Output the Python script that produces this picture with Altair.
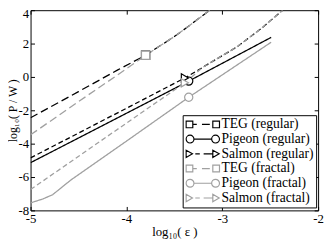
import altair as alt
import pandas as pd

# ---------------- data ----------------
series_names = ["TEG (regular)", "Pigeon (regular)", "Salmon (regular)",
                "TEG (fractal)", "Pigeon (fractal)", "Salmon (fractal)"]

teg_reg_x = [-5.0, -4.5, -4.09, -3.80, -3.50, -3.37, -3.13]
teg_reg_y = [-2.45, -0.88, 0.42, 1.30, 2.42, 2.96, 4.00]

pig_reg_x = [-5.0, -4.0, -3.35, -2.49]
pig_reg_y = [-5.14, -2.18, -0.25, 2.37]

sal_reg_x = [-5.0, -4.0, -3.39, -3.20, -2.85, -2.60, -2.37]
sal_reg_y = [-4.85, -1.88, -0.06, 0.59, 1.79, 2.87, 4.00]

teg_fra_x = [-5.0, -4.5, -4.09, -3.80, -3.50, -3.37, -3.13]
teg_fra_y = [-3.47, -1.48, 0.13, 1.30, 2.42, 2.96, 4.00]

pig_fra_x = [-5.0, -4.87, -4.77, -4.58, -4.0, -3.35, -2.49]
pig_fra_y = [-7.55, -7.31, -7.06, -6.18, -3.85, -1.22, 2.08]

sal_fra_x = [-5.0, -4.0, -3.39, -3.20, -2.85, -2.60, -2.37]
sal_fra_y = [-6.75, -2.77, -0.35, 0.59, 1.79, 2.87, 4.00]

# index of the point of each series that carries a marker
marker_index = [3, 2, 2, 3, 5, 2]
marker_shapes = ["square", "circle", "triangle-right",
                 "square", "circle", "triangle-right"]
line_styles = ["long", "solid", "short", "long", "solid", "short"]

x_ticks = [-5, -4, -3, -2]
y_ticks = [4, 2, 0, -2, -4, -6, -8]

# ---------------- styles ----------------
BLACK = "#000000"
GREY = "#a0a0a0"
series_colors = [BLACK, BLACK, BLACK, GREY, GREY, GREY]
style_names = ["long", "solid", "short"]
style_dashes = [[8, 4], [1, 0], [5, 3]]

sq = "M-1,-0.2H-0.6V0.2H-1ZM0.6,-0.2H1V0.2H0.6Z"
ci = ("M-1,0A0.235,0.235 0 1,0 -0.53,0A0.235,0.235 0 1,0 -1,0Z"
      "M0.53,0A0.235,0.235 0 1,0 1,0A0.235,0.235 0 1,0 0.53,0Z")
tr = "M-1,-0.22L-0.62,0L-1,0.22ZM0.6,-0.22L0.98,0L0.6,0.22Z"
legend_paths = [
    sq + "M-0.6,0H-0.36M-0.05,0H0.42",
    ci + "M-0.53,0H0.53",
    tr + "M-0.45,0H-0.18M0.05,0H0.6",
]
legend_paths = legend_paths + legend_paths

FONT = "Liberation Serif"

# ---------------- tables ----------------
all_x = [teg_reg_x, pig_reg_x, sal_reg_x, teg_fra_x, pig_fra_x, sal_fra_x]
all_y = [teg_reg_y, pig_reg_y, sal_reg_y, teg_fra_y, pig_fra_y, sal_fra_y]
rows = []
for name, sty, xs_, ys_ in zip(series_names, line_styles, all_x, all_y):
    for i, (a, b) in enumerate(zip(xs_, ys_)):
        rows.append({"series": name, "style": sty, "x": a, "y": b, "idx": i})
line_df = pd.DataFrame(rows)

mrows = []
for name, xs_, ys_, k, shp in zip(series_names, all_x, all_y, marker_index, marker_shapes):
    mrows.append({"series": name, "x": xs_[k], "y": ys_[k], "shape": shp})
marker_df = pd.DataFrame(mrows)

# ---------------- scales ----------------
xs = alt.Scale(domain=[-5, -2], nice=False, zero=False)
ys = alt.Scale(domain=[-8, 4], nice=False, zero=False)
color_scale = alt.Scale(domain=series_names, range=series_colors)
dash_scale = alt.Scale(domain=style_names, range=style_dashes)
shape_scale = alt.Scale(domain=series_names, range=legend_paths)

axis_common = dict(domain=False, grid=False, tickSize=4, tickColor="black",
                   tickWidth=1, offset=-4, labelFont=FONT, labelFontSize=13,
                   labelColor="black", titleFont=FONT,
                   titleFontWeight="normal", titleColor="black",
                   labelOverlap=False)

x_axis = alt.Axis(orient="bottom", values=x_ticks, title="log₁₀( ε )",
                  labelFlush=False, labelPadding=2.5, titlePadding=0,
                  titleFontSize=13,
                  labelExpr="'' + datum.value", **axis_common)
y_axis = alt.Axis(orient="left", values=y_ticks, title="log₁₀( P / W )",
                  labelPadding=2, titlePadding=-1, titleFontSize=12,
                  labelExpr="'' + datum.value",
                  labelOffset={"condition": {"test": "datum.value == 4", "value": 3.5},
                               "value": 0},
                  **axis_common)
x_axis_top = alt.Axis(orient="top", values=x_ticks, title=None, labels=False,
                      **axis_common)
y_axis_right = alt.Axis(orient="right", values=y_ticks, title=None, labels=False,
                        **axis_common)

legend = alt.Legend(orient="none", legendX=155, legendY=107, title=None,
                    padding=2.5, fillColor="white", strokeColor="black",
                    symbolSize=1156, symbolStrokeWidth=1.2, symbolOpacity=1,
                    labelFont=FONT, labelFontSize=13.8, labelColor="black",
                    labelOffset=1, clipHeight=13.7, rowPadding=0)

legend_layer = alt.Chart(marker_df).transform_filter("false").mark_point(
    filled=False, strokeWidth=1.2, opacity=1
).encode(
    x=alt.X("x:Q", scale=xs, axis=x_axis_top),
    y=alt.Y("y:Q", scale=ys, axis=y_axis_right),
    color=alt.Color("series:N", scale=color_scale, legend=legend),
    shape=alt.Shape("series:N", scale=shape_scale, legend=legend),
)

lines = alt.Chart(line_df).mark_line(strokeWidth=1.3, clip=True).encode(
    x=alt.X("x:Q", scale=xs, axis=x_axis),
    y=alt.Y("y:Q", scale=ys, axis=y_axis),
    color=alt.Color("series:N", scale=color_scale, legend=None),
    strokeDash=alt.StrokeDash("style:N", scale=dash_scale, legend=None),
    detail="series:N",
    order="idx:Q",
)

marker_layers = []
for shp in ["square", "circle", "triangle-right"]:
    marker_layers.append(
        alt.Chart(marker_df).transform_filter(alt.datum.shape == shp)
        .mark_point(shape=shp, size=70, filled=False, fill="white",
                    strokeWidth=1.2, opacity=1)
        .encode(
            x=alt.X("x:Q", scale=xs, axis=None),
            y=alt.Y("y:Q", scale=ys, axis=None),
            color=alt.Color("series:N", scale=color_scale, legend=None),
        )
    )

chart = alt.layer(legend_layer, lines, *marker_layers).resolve_axis(
    x="independent", y="independent"
).properties(
    width=293, height=204, autosize="none",
    padding={"left": 23, "top": 0, "right": 6, "bottom": 32},
).configure_view(stroke="black", strokeWidth=1)

chart.save("out.html", embed_options={"renderer": "svg", "actions": False})
